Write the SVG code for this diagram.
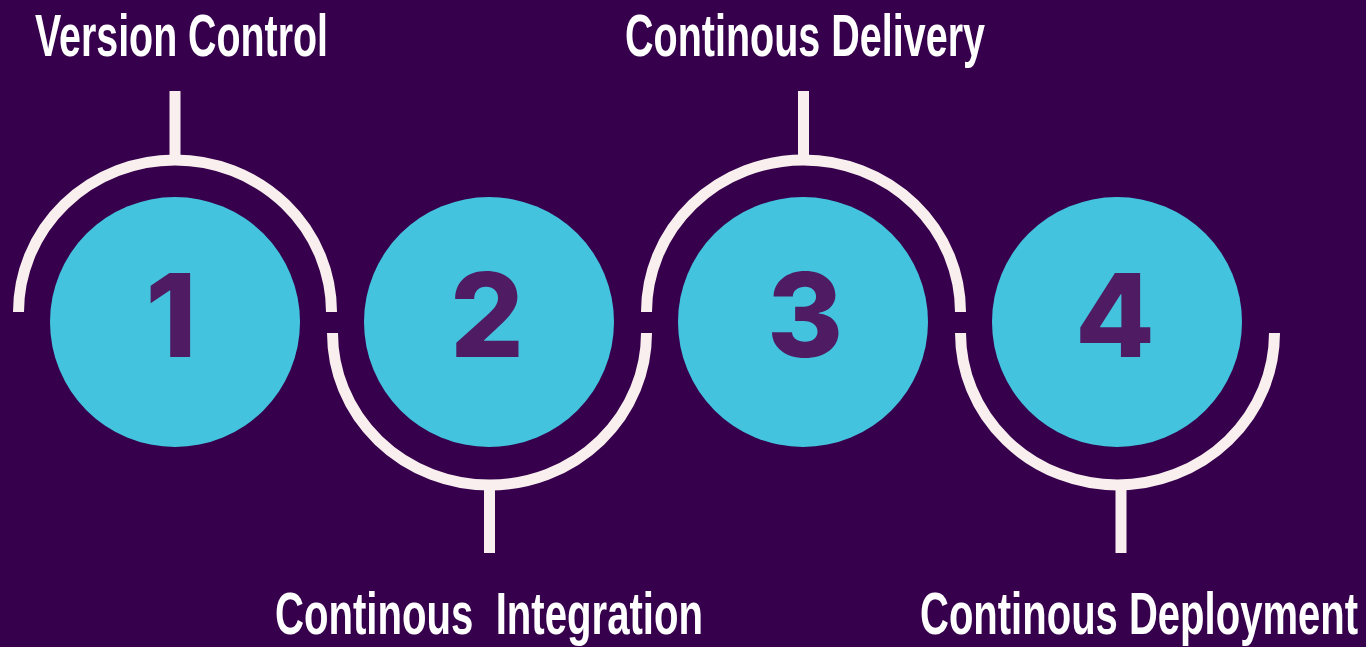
<svg xmlns="http://www.w3.org/2000/svg" width="1366" height="647" viewBox="0 0 1366 647">
<style>
.bg{fill:#36004d}
.disc{fill:#44c3de}
.num{fill:#4f1b63;font-family:Inter,"Liberation Sans",sans-serif;font-weight:800;font-size:116px;text-anchor:middle}
.lbl{fill:#ffffff;font-family:"Liberation Sans",Arial,sans-serif;font-weight:700;font-size:60px}
.ring{fill:none;stroke:#f9efee;stroke-width:11}
</style>
<rect class="bg" x="0" y="0" width="1366" height="647"/>
<g id="connectors">
<path class="ring" d="M 18.5 312 A 156.5 152 0 0 1 331.5 312"/>
<path class="ring" d="M 332.5 333 A 157 152 0 0 0 646.5 333"/>
<path class="ring" d="M 646.5 312 A 157 152 0 0 1 960.5 312"/>
<path class="ring" d="M 960.5 333 A 157 152 0 0 0 1274.5 333"/>
<line class="ring" x1="175" y1="91" x2="175" y2="160"/>
<line class="ring" x1="489.5" y1="485" x2="489.5" y2="553"/>
<line class="ring" x1="803.5" y1="91" x2="803.5" y2="160"/>
<line class="ring" x1="1121" y1="485" x2="1121" y2="553"/>
</g>
<g id="node1">
<circle class="disc" cx="175" cy="322" r="125"/>
<text class="num" x="171" y="357">1</text>
<text class="lbl" x="35" y="55.5" textLength="293" lengthAdjust="spacingAndGlyphs">Version Control</text>
</g>
<g id="node2">
<circle class="disc" cx="489" cy="322" r="125"/>
<text class="num" x="487" y="357">2</text>
<text class="lbl" x="275" y="633.5" textLength="428" lengthAdjust="spacingAndGlyphs" xml:space="preserve">Continous  Integration</text>
</g>
<g id="node3">
<circle class="disc" cx="803" cy="322" r="125"/>
<text class="num" x="805" y="357">3</text>
<text class="lbl" x="625" y="55.5" textLength="360" lengthAdjust="spacingAndGlyphs">Continous Delivery</text>
</g>
<g id="node4">
<circle class="disc" cx="1117" cy="322" r="125"/>
<text class="num" x="1115" y="357">4</text>
<text class="lbl" transform="translate(920,633.5) scale(0.668,1)" x="0" y="0" textLength="655.7" lengthAdjust="spacingAndGlyphs">Continous Deployment</text>
</g>
</svg>
